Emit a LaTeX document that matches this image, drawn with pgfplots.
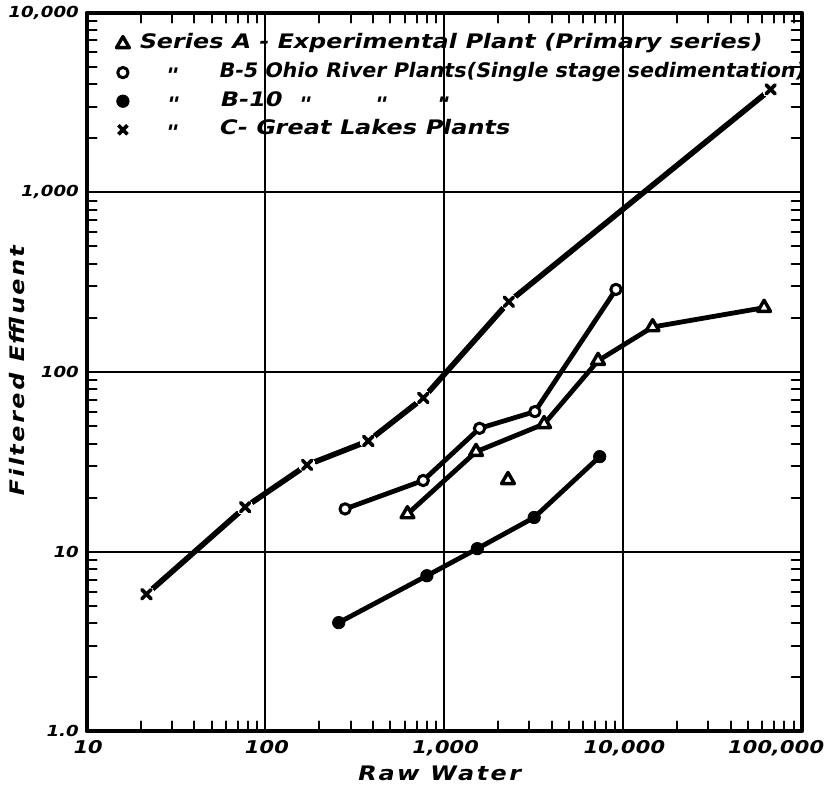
\documentclass[border=0pt]{standalone}
\usepackage{fontspec}
\usepackage{graphicx}
\newfontfamily\lettering{DejaVu Sans}[FakeStretch=1.2,FakeSlant=0.22]
\usepackage{pgfplots}
\pgfplotsset{compat=1.18}
% hand lettering look
\newcommand\lab{\lettering\bfseries\fontsize{10}{11}\selectfont\addfontfeature{LetterSpace=12}}
\newcommand\dit{\raisebox{-0.45ex}{\textquotedbl}}
\newcommand\at[2]{\makebox[0pt][l]{\hspace{#1}#2}}

\begin{document}
\begin{tikzpicture}
\begin{axis}[
 at={(0,0)},anchor=south west,
 scale only axis,width=357.5pt,height=359.4pt,
 xmode=log,ymode=log,
 xmin=10,xmax=100000,ymin=1,ymax=10000,
 xtick={10,100,1000,10000,100000},
 xticklabels={\mbox{10},\mbox{100},\mbox{1,000},\mbox{10,000},\mbox{100,000\hspace{27pt}}},
 ytick={1,10,100,1000,10000},
 yticklabels={\mbox{1.0},\mbox{10},\mbox{100},\mbox{1,000},\mbox{10,000}},
 minor xtick={20,30,40,50,60,70,80,90,200,300,400,500,600,700,800,900,
   2000,3000,4000,5000,6000,7000,8000,9000,20000,30000,40000,50000,60000,70000,80000,90000},
 minor ytick={2,3,4,5,6,7,8,9,20,30,40,50,60,70,80,90,200,300,400,500,600,700,800,900,
   2000,3000,4000,5000,6000,7000,8000,9000},
 grid=major,major grid style={black,line width=1pt},
 tick align=inside,major tick length=0pt,minor tick length=5pt,
 every minor tick/.style={black,line width=1pt},
 axis line style={line width=2pt},
 xticklabel style={font=\lettering\bfseries\fontsize{8.8}{10}\selectfont,yshift=-1pt},
 yticklabel style={font=\lettering\bfseries\fontsize{7.6}{9}\selectfont,xshift=-1pt},
 xlabel={Raw Water},
 xlabel style={font=\lab,at={(axis description cs:0.5,0)},anchor=base,yshift=-24.5pt,xshift=-3pt},
 ylabel={Filtered Effluent},
 ylabel style={font=\lab,at={(axis description cs:0,0.5)},anchor=base,yshift=31pt},
 legend style={draw=none,fill=none,at={(0,1)},anchor=north west,xshift=14.7pt,yshift=-11pt,
   font=\lettering\bfseries\fontsize{10}{11}\selectfont,row sep=5.3pt,inner sep=0pt,
   nodes={inner sep=0pt,text height=7pt,text depth=2pt}},
 legend cell align=left,
 legend image code/.code={\path (-3pt,0pt) (7.5pt,0pt); \draw[#1] plot coordinates {(0pt,0pt)};},
 every axis plot/.append style={black},
 line cap=round,line join=round,
]
% lines
\addplot[forget plot,no marks,line width=2.4pt] coordinates
 {(623,16.2) (1507,36.0) (3623,51.4) (7260,115.6) (14650,178) (61600,228)};
\addplot[forget plot,no marks,line width=2.4pt] coordinates
 {(279,17.3) (763,24.9) (1577,48.6) (3216,60.2) (9140,288)};
\addplot[forget plot,no marks,line width=2.4pt] coordinates
 {(257,4.03) (800,7.35) (1532,10.4) (3186,15.5) (7413,33.8)};
\addplot[forget plot,no marks,line width=2.8pt] coordinates
 {(21.6,5.8) (77,17.7) (171,30.4) (376,41.3) (764,71.7) (2302,246) (67000,3740)};
% white gaps round the crosses
\addplot[white,forget plot,only marks,mark=*,mark size=4pt,mark options={draw=white,fill=white,line width=0pt}] coordinates
 {(21.6,5.8) (77,17.7) (171,30.4) (376,41.3) (764,71.7) (2302,246) (67000,3740)};
% marks
\addplot[only marks,mark=triangle*,mark size=3.7pt,mark options={fill=white,line width=1.7pt}] coordinates
 {(623,16.2) (1507,36.0) (3623,51.4) (7260,115.6) (14650,178) (61600,228) (2274,25.1)};
\addlegendentry{Series A - Experimental Plant (Primary series)}
\addplot[only marks,mark=*,mark size=2.6pt,mark options={fill=white,line width=1.5pt}] coordinates
 {(279,17.3) (763,24.9) (1577,48.6) (3216,60.2) (9140,288)};
\addlegendentry{\at{13pt}{\dit}\hspace{40pt}\scalebox{0.86}[1]{B-5 Ohio River Plants(Single stage sedimentation)}}
\addplot[only marks,mark=*,mark size=3.1pt,mark options={fill=black}] coordinates
 {(257,4.03) (800,7.35) (1532,10.4) (3186,15.5) (7413,33.8)};
\addlegendentry{\at{13pt}{\dit}\at{40pt}{B-10}\at{79pt}{\dit}\at{117pt}{\dit}\at{148pt}{\dit}}
\addplot[only marks,mark=x,mark size=3.2pt,mark options={line width=1.8pt}] coordinates
 {(21.6,5.8) (77,17.7) (171,30.4) (376,41.3) (764,71.7) (2302,246) (67000,3740)};
\addlegendentry{\at{13pt}{\dit}\hspace{40pt}C- Great Lakes Plants}
\end{axis}
\pgfresetboundingbox
\path (-43.35pt,-27.3pt) rectangle (370.65pt,365.7pt);
\end{tikzpicture}
\end{document}
